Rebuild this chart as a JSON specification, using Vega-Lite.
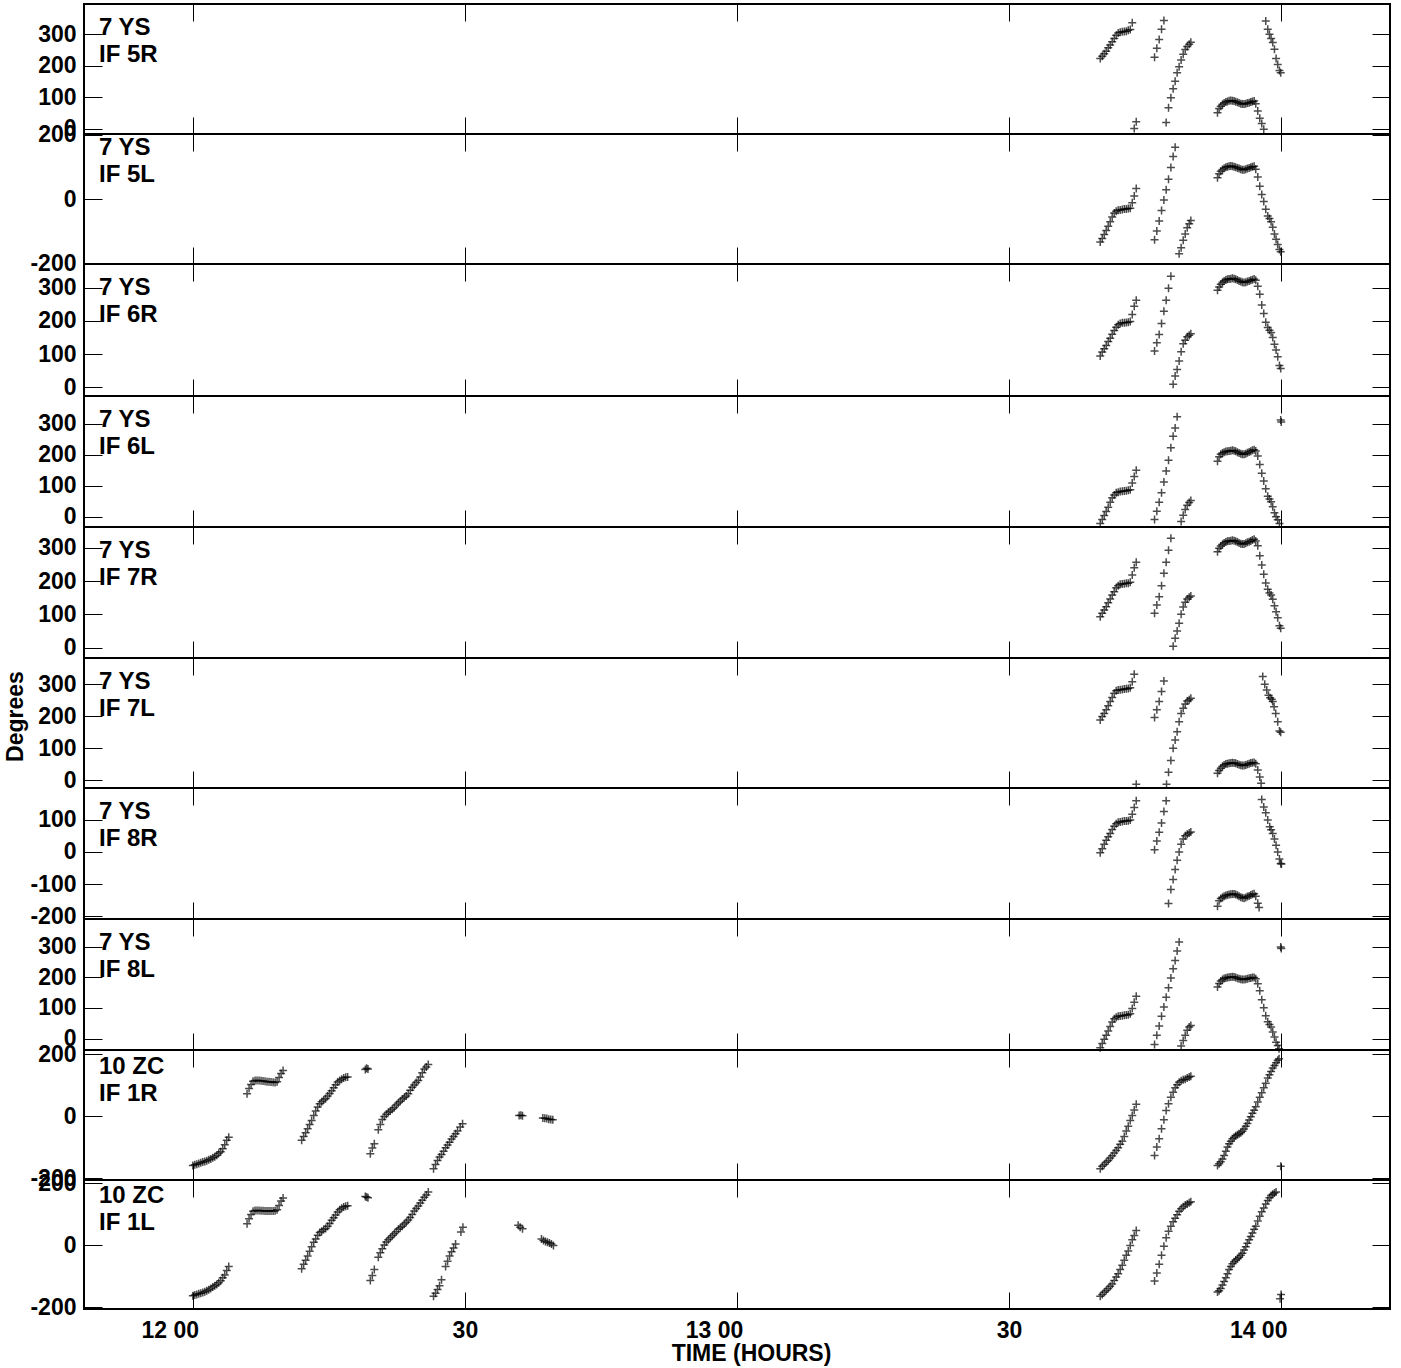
{
  "$schema": "https://vega.github.io/schema/vega-lite/v6.json",
  "background": "white",
  "padding": {"left": 3, "top": 2, "right": 8, "bottom": 5},
  "bounds": "flush",
  "spacing": 0,
  "datasets": {
    "p1": [
      {"t":100.05,"v":223},{"t":100.27,"v":230},{"t":100.49,"v":238},{"t":100.71,"v":246},{"t":100.93,"v":257},{"t":101.15,"v":265},{"t":101.37,"v":276},{"t":101.59,"v":286},{"t":101.81,"v":296},{"t":102.03,"v":303},{"t":102.25,"v":306},{"t":102.48,"v":307},{"t":102.70,"v":308},{"t":102.92,"v":309},{"t":103.14,"v":312},{"t":103.36,"v":314},{"t":103.58,"v":336},{"t":103.80,"v":1},{"t":104.02,"v":23},
      {"t":106.04,"v":227},{"t":106.29,"v":255},{"t":106.55,"v":283},{"t":106.81,"v":315},{"t":107.07,"v":343},{"t":107.32,"v":20},{"t":107.58,"v":67},{"t":107.84,"v":99},{"t":108.09,"v":127},{"t":108.31,"v":151},{"t":108.53,"v":178},{"t":108.75,"v":197},{"t":108.97,"v":218},{"t":109.20,"v":236},{"t":109.42,"v":251},{"t":109.64,"v":261},{"t":109.86,"v":268},{"t":110.04,"v":274},
      {"t":112.98,"v":51},{"t":113.16,"v":65},{"t":113.34,"v":72},{"t":113.53,"v":78},{"t":113.71,"v":82},{"t":113.90,"v":85},{"t":114.08,"v":87},{"t":114.26,"v":89},{"t":114.45,"v":90},{"t":114.63,"v":89},{"t":114.81,"v":88},{"t":114.99,"v":86},{"t":115.18,"v":84},{"t":115.36,"v":82},{"t":115.55,"v":80},{"t":115.73,"v":79},{"t":115.91,"v":79},{"t":116.10,"v":80},{"t":116.28,"v":82},{"t":116.47,"v":83},{"t":116.65,"v":85},{"t":116.83,"v":87},{"t":117.02,"v":88},{"t":117.20,"v":80},
      {"t":117.42,"v":57},{"t":117.64,"v":34},{"t":117.86,"v":17},{"t":118.08,"v":-1},{"t":118.30,"v":341},{"t":118.52,"v":315},{"t":118.71,"v":299},{"t":118.89,"v":286},{"t":119.07,"v":273},{"t":119.26,"v":252},{"t":119.44,"v":223},{"t":119.62,"v":204},{"t":119.81,"v":185},{"t":119.95,"v":178}
    ],
    "p2": [
      {"t":100.05,"v":-134},{"t":100.27,"v":-123},{"t":100.49,"v":-111},{"t":100.71,"v":-98},{"t":100.93,"v":-85},{"t":101.15,"v":-71},{"t":101.37,"v":-56},{"t":101.59,"v":-44},{"t":101.81,"v":-38},{"t":102.03,"v":-35},{"t":102.25,"v":-34},{"t":102.48,"v":-33},{"t":102.70,"v":-31},{"t":102.92,"v":-31},{"t":103.14,"v":-30},{"t":103.36,"v":-29},{"t":103.58,"v":-12},{"t":103.80,"v":9},{"t":104.02,"v":33},
      {"t":106.04,"v":-127},{"t":106.29,"v":-100},{"t":106.55,"v":-69},{"t":106.81,"v":-36},{"t":107.07,"v":-3},{"t":107.32,"v":29},{"t":107.58,"v":62},{"t":107.84,"v":98},{"t":108.09,"v":133},{"t":108.31,"v":162},{"t":108.75,"v":-171},{"t":108.97,"v":-152},{"t":109.20,"v":-129},{"t":109.42,"v":-109},{"t":109.64,"v":-90},{"t":109.86,"v":-77},{"t":110.04,"v":-67},
      {"t":112.98,"v":66},{"t":113.16,"v":79},{"t":113.34,"v":87},{"t":113.53,"v":92},{"t":113.71,"v":96},{"t":113.90,"v":99},{"t":114.08,"v":101},{"t":114.26,"v":102},{"t":114.45,"v":103},{"t":114.63,"v":102},{"t":114.81,"v":101},{"t":114.99,"v":99},{"t":115.18,"v":97},{"t":115.36,"v":95},{"t":115.55,"v":93},{"t":115.73,"v":91},{"t":115.91,"v":91},{"t":116.10,"v":93},{"t":116.28,"v":95},{"t":116.47,"v":97},{"t":116.65,"v":99},{"t":116.83,"v":101},{"t":117.02,"v":102},{"t":117.20,"v":93},
      {"t":117.42,"v":69},{"t":117.64,"v":40},{"t":117.86,"v":14},{"t":118.08,"v":-8},{"t":118.30,"v":-32},{"t":118.52,"v":-53},{"t":118.71,"v":-61},{"t":118.89,"v":-71},{"t":119.07,"v":-88},{"t":119.26,"v":-109},{"t":119.44,"v":-126},{"t":119.62,"v":-142},{"t":119.81,"v":-158},{"t":119.95,"v":-165}
    ],
    "p3": [
      {"t":100.05,"v":94},{"t":100.27,"v":106},{"t":100.49,"v":116},{"t":100.71,"v":126},{"t":100.93,"v":138},{"t":101.15,"v":148},{"t":101.37,"v":160},{"t":101.59,"v":171},{"t":101.81,"v":181},{"t":102.03,"v":188},{"t":102.25,"v":192},{"t":102.48,"v":194},{"t":102.70,"v":194},{"t":102.92,"v":195},{"t":103.14,"v":196},{"t":103.36,"v":198},{"t":103.58,"v":219},{"t":103.80,"v":244},{"t":104.02,"v":262},
      {"t":106.04,"v":109},{"t":106.29,"v":134},{"t":106.55,"v":159},{"t":106.81,"v":192},{"t":107.07,"v":229},{"t":107.32,"v":262},{"t":107.58,"v":298},{"t":107.84,"v":334},{"t":108.09,"v":9},{"t":108.31,"v":34},{"t":108.53,"v":54},{"t":108.75,"v":79},{"t":108.97,"v":107},{"t":109.20,"v":131},{"t":109.42,"v":142},{"t":109.64,"v":152},{"t":109.86,"v":157},{"t":110.04,"v":161},
      {"t":112.98,"v":292},{"t":113.16,"v":302},{"t":113.34,"v":310},{"t":113.53,"v":316},{"t":113.71,"v":320},{"t":113.90,"v":323},{"t":114.08,"v":325},{"t":114.26,"v":326},{"t":114.45,"v":327},{"t":114.63,"v":328},{"t":114.81,"v":327},{"t":114.99,"v":325},{"t":115.18,"v":323},{"t":115.36,"v":320},{"t":115.55,"v":318},{"t":115.73,"v":316},{"t":115.91,"v":315},{"t":116.10,"v":316},{"t":116.28,"v":318},{"t":116.47,"v":320},{"t":116.65,"v":322},{"t":116.83,"v":324},{"t":117.02,"v":326},{"t":117.20,"v":322},
      {"t":117.42,"v":304},{"t":117.64,"v":280},{"t":117.86,"v":248},{"t":118.08,"v":222},{"t":118.30,"v":196},{"t":118.52,"v":180},{"t":118.71,"v":172},{"t":118.89,"v":165},{"t":119.07,"v":150},{"t":119.26,"v":130},{"t":119.44,"v":112},{"t":119.62,"v":92},{"t":119.81,"v":66},{"t":119.95,"v":57}
    ],
    "p4": [
      {"t":100.05,"v":-22},{"t":100.27,"v":-9},{"t":100.49,"v":4},{"t":100.71,"v":17},{"t":100.93,"v":31},{"t":101.15,"v":47},{"t":101.37,"v":61},{"t":101.59,"v":70},{"t":101.81,"v":77},{"t":102.03,"v":79},{"t":102.25,"v":81},{"t":102.48,"v":82},{"t":102.70,"v":83},{"t":102.92,"v":84},{"t":103.14,"v":85},{"t":103.36,"v":87},{"t":103.58,"v":109},{"t":103.80,"v":130},{"t":104.02,"v":150},
      {"t":106.04,"v":-9},{"t":106.29,"v":18},{"t":106.55,"v":47},{"t":106.81,"v":77},{"t":107.07,"v":112},{"t":107.32,"v":147},{"t":107.58,"v":182},{"t":107.84,"v":222},{"t":108.09,"v":259},{"t":108.31,"v":286},{"t":108.53,"v":322},{"t":108.97,"v":-15},{"t":109.20,"v":5},{"t":109.42,"v":23},{"t":109.64,"v":37},{"t":109.86,"v":46},{"t":110.04,"v":52},
      {"t":112.98,"v":179},{"t":113.16,"v":193},{"t":113.34,"v":201},{"t":113.53,"v":205},{"t":113.71,"v":208},{"t":113.90,"v":210},{"t":114.08,"v":211},{"t":114.26,"v":212},{"t":114.45,"v":213},{"t":114.63,"v":214},{"t":114.81,"v":213},{"t":114.99,"v":211},{"t":115.18,"v":208},{"t":115.36,"v":205},{"t":115.55,"v":203},{"t":115.73,"v":201},{"t":115.91,"v":201},{"t":116.10,"v":203},{"t":116.28,"v":206},{"t":116.47,"v":209},{"t":116.65,"v":211},{"t":116.83,"v":214},{"t":117.02,"v":216},{"t":117.20,"v":212},
      {"t":117.42,"v":196},{"t":117.64,"v":168},{"t":117.86,"v":140},{"t":118.08,"v":115},{"t":118.30,"v":90},{"t":118.52,"v":66},{"t":118.71,"v":57},{"t":118.89,"v":48},{"t":119.07,"v":32},{"t":119.26,"v":13},{"t":119.44,"v":0},{"t":119.62,"v":-10},{"t":119.81,"v":-22},{"t":119.95,"v":312},{"t":120.01,"v":305}
    ],
    "p5": [
      {"t":100.05,"v":93},{"t":100.27,"v":103},{"t":100.49,"v":113},{"t":100.71,"v":123},{"t":100.93,"v":135},{"t":101.15,"v":146},{"t":101.37,"v":158},{"t":101.59,"v":168},{"t":101.81,"v":180},{"t":102.03,"v":186},{"t":102.25,"v":190},{"t":102.48,"v":191},{"t":102.70,"v":192},{"t":102.92,"v":193},{"t":103.14,"v":193},{"t":103.36,"v":196},{"t":103.58,"v":218},{"t":103.80,"v":240},{"t":104.02,"v":256},
      {"t":106.04,"v":103},{"t":106.29,"v":128},{"t":106.55,"v":153},{"t":106.81,"v":186},{"t":107.07,"v":223},{"t":107.32,"v":256},{"t":107.58,"v":292},{"t":107.84,"v":328},{"t":108.09,"v":4},{"t":108.31,"v":28},{"t":108.53,"v":50},{"t":108.75,"v":73},{"t":108.97,"v":100},{"t":109.20,"v":122},{"t":109.42,"v":136},{"t":109.64,"v":146},{"t":109.86,"v":151},{"t":110.04,"v":155},
      {"t":112.98,"v":288},{"t":113.16,"v":298},{"t":113.34,"v":305},{"t":113.53,"v":310},{"t":113.71,"v":314},{"t":113.90,"v":317},{"t":114.08,"v":319},{"t":114.26,"v":320},{"t":114.45,"v":321},{"t":114.63,"v":322},{"t":114.81,"v":321},{"t":114.99,"v":319},{"t":115.18,"v":317},{"t":115.36,"v":314},{"t":115.55,"v":312},{"t":115.73,"v":311},{"t":115.91,"v":311},{"t":116.10,"v":313},{"t":116.28,"v":316},{"t":116.47,"v":318},{"t":116.65,"v":320},{"t":116.83,"v":323},{"t":117.02,"v":325},{"t":117.20,"v":320},
      {"t":117.42,"v":306},{"t":117.64,"v":276},{"t":117.86,"v":248},{"t":118.08,"v":220},{"t":118.30,"v":194},{"t":118.52,"v":175},{"t":118.71,"v":164},{"t":118.89,"v":158},{"t":119.07,"v":145},{"t":119.26,"v":126},{"t":119.44,"v":108},{"t":119.62,"v":90},{"t":119.81,"v":66},{"t":119.95,"v":58}
    ],
    "p6": [
      {"t":100.05,"v":188},{"t":100.27,"v":199},{"t":100.49,"v":209},{"t":100.71,"v":220},{"t":100.93,"v":233},{"t":101.15,"v":246},{"t":101.37,"v":259},{"t":101.59,"v":272},{"t":101.81,"v":280},{"t":102.03,"v":282},{"t":102.25,"v":283},{"t":102.48,"v":284},{"t":102.70,"v":285},{"t":102.92,"v":286},{"t":103.14,"v":287},{"t":103.36,"v":289},{"t":103.58,"v":308},{"t":103.80,"v":331},{"t":104.02,"v":-12},
      {"t":106.04,"v":196},{"t":106.29,"v":220},{"t":106.55,"v":246},{"t":106.81,"v":277},{"t":107.07,"v":310},{"t":107.36,"v":-12},{"t":107.58,"v":25},{"t":107.84,"v":62},{"t":108.09,"v":100},{"t":108.31,"v":126},{"t":108.53,"v":152},{"t":108.75,"v":183},{"t":108.97,"v":209},{"t":109.20,"v":225},{"t":109.42,"v":238},{"t":109.64,"v":248},{"t":109.86,"v":252},{"t":110.04,"v":256},
      {"t":112.98,"v":22},{"t":113.16,"v":31},{"t":113.34,"v":38},{"t":113.53,"v":44},{"t":113.71,"v":48},{"t":113.90,"v":51},{"t":114.08,"v":52},{"t":114.26,"v":53},{"t":114.45,"v":54},{"t":114.63,"v":55},{"t":114.81,"v":54},{"t":114.99,"v":53},{"t":115.18,"v":51},{"t":115.36,"v":49},{"t":115.55,"v":47},{"t":115.73,"v":46},{"t":115.91,"v":46},{"t":116.10,"v":48},{"t":116.28,"v":50},{"t":116.47,"v":52},{"t":116.65,"v":54},{"t":116.83,"v":55},{"t":117.02,"v":56},{"t":117.20,"v":52},
      {"t":117.42,"v":32},{"t":117.64,"v":10},{"t":117.79,"v":-9},{"t":117.97,"v":324},{"t":118.19,"v":300},{"t":118.41,"v":282},{"t":118.60,"v":266},{"t":118.78,"v":258},{"t":118.96,"v":253},{"t":119.07,"v":246},{"t":119.22,"v":230},{"t":119.40,"v":209},{"t":119.62,"v":183},{"t":119.81,"v":154},{"t":119.95,"v":150}
    ],
    "p7": [
      {"t":100.05,"v":-3},{"t":100.27,"v":10},{"t":100.49,"v":24},{"t":100.71,"v":36},{"t":100.93,"v":47},{"t":101.15,"v":57},{"t":101.37,"v":70},{"t":101.59,"v":80},{"t":101.81,"v":88},{"t":102.03,"v":92},{"t":102.25,"v":93},{"t":102.48,"v":95},{"t":102.70,"v":96},{"t":102.92,"v":96},{"t":103.14,"v":97},{"t":103.36,"v":99},{"t":103.58,"v":117},{"t":103.80,"v":138},{"t":104.02,"v":159},
      {"t":106.04,"v":7},{"t":106.29,"v":34},{"t":106.55,"v":61},{"t":106.81,"v":90},{"t":107.07,"v":126},{"t":107.32,"v":159},{"t":107.58,"v":-161},{"t":107.84,"v":-117},{"t":108.09,"v":-86},{"t":108.31,"v":-55},{"t":108.53,"v":-26},{"t":108.75,"v":0},{"t":108.97,"v":24},{"t":109.20,"v":40},{"t":109.42,"v":50},{"t":109.64,"v":55},{"t":109.86,"v":59},{"t":110.04,"v":62},
      {"t":112.98,"v":-169},{"t":113.16,"v":-152},{"t":113.34,"v":-145},{"t":113.53,"v":-141},{"t":113.71,"v":-138},{"t":113.90,"v":-136},{"t":114.08,"v":-134},{"t":114.26,"v":-133},{"t":114.45,"v":-132},{"t":114.63,"v":-131},{"t":114.81,"v":-131},{"t":114.99,"v":-133},{"t":115.18,"v":-135},{"t":115.36,"v":-138},{"t":115.55,"v":-141},{"t":115.73,"v":-143},{"t":115.91,"v":-144},{"t":116.10,"v":-142},{"t":116.28,"v":-139},{"t":116.47,"v":-137},{"t":116.65,"v":-134},{"t":116.83,"v":-132},{"t":117.02,"v":-130},{"t":117.20,"v":-138},
      {"t":117.42,"v":-160},{"t":117.57,"v":-173},{"t":117.86,"v":163},{"t":118.08,"v":140},{"t":118.30,"v":122},{"t":118.52,"v":99},{"t":118.74,"v":78},{"t":118.89,"v":69},{"t":119.07,"v":57},{"t":119.26,"v":40},{"t":119.44,"v":21},{"t":119.62,"v":0},{"t":119.81,"v":-22},{"t":119.95,"v":-36},{"t":120.03,"v":-38}
    ],
    "p8": [
      {"t":100.05,"v":-30},{"t":100.27,"v":-16},{"t":100.49,"v":-2},{"t":100.71,"v":11},{"t":100.93,"v":25},{"t":101.15,"v":40},{"t":101.37,"v":54},{"t":101.59,"v":65},{"t":101.81,"v":70},{"t":102.03,"v":73},{"t":102.25,"v":74},{"t":102.48,"v":75},{"t":102.70,"v":76},{"t":102.92,"v":77},{"t":103.14,"v":78},{"t":103.36,"v":81},{"t":103.58,"v":98},{"t":103.80,"v":119},{"t":104.02,"v":138},
      {"t":106.04,"v":-19},{"t":106.29,"v":11},{"t":106.55,"v":41},{"t":106.81,"v":73},{"t":107.07,"v":103},{"t":107.32,"v":135},{"t":107.58,"v":166},{"t":107.84,"v":198},{"t":108.09,"v":228},{"t":108.31,"v":255},{"t":108.53,"v":286},{"t":108.75,"v":315},{"t":108.97,"v":-24},{"t":109.20,"v":-6},{"t":109.42,"v":11},{"t":109.64,"v":27},{"t":109.86,"v":38},{"t":110.04,"v":43},
      {"t":112.98,"v":168},{"t":113.16,"v":180},{"t":113.34,"v":188},{"t":113.53,"v":193},{"t":113.71,"v":196},{"t":113.90,"v":198},{"t":114.08,"v":199},{"t":114.26,"v":200},{"t":114.45,"v":201},{"t":114.63,"v":202},{"t":114.81,"v":201},{"t":114.99,"v":199},{"t":115.18,"v":197},{"t":115.36,"v":195},{"t":115.55,"v":194},{"t":115.73,"v":193},{"t":115.91,"v":193},{"t":116.10,"v":194},{"t":116.28,"v":195},{"t":116.47,"v":197},{"t":116.65,"v":198},{"t":116.83,"v":199},{"t":117.02,"v":199},{"t":117.20,"v":195},
      {"t":117.42,"v":179},{"t":117.64,"v":156},{"t":117.86,"v":127},{"t":118.08,"v":101},{"t":118.30,"v":75},{"t":118.52,"v":55},{"t":118.71,"v":46},{"t":118.89,"v":38},{"t":119.07,"v":22},{"t":119.26,"v":5},{"t":119.44,"v":-12},{"t":119.62,"v":-22},{"t":119.77,"v":-33},{"t":119.95,"v":299},{"t":120.01,"v":294}
    ],
    "p9": [
      {"t":0.00,"v":-159},{"t":0.22,"v":-157},{"t":0.44,"v":-155},{"t":0.66,"v":-153},{"t":0.88,"v":-150},{"t":1.10,"v":-148},{"t":1.32,"v":-146},{"t":1.54,"v":-144},{"t":1.76,"v":-141},{"t":1.98,"v":-138},{"t":2.20,"v":-134},{"t":2.42,"v":-131},{"t":2.64,"v":-126},{"t":2.86,"v":-120},{"t":3.08,"v":-115},{"t":3.30,"v":-105},{"t":3.52,"v":-92},{"t":3.74,"v":-78},{"t":3.96,"v":-68},
      {"t":5.98,"v":72},{"t":6.20,"v":89},{"t":6.42,"v":102},{"t":6.64,"v":112},{"t":6.86,"v":115},{"t":7.08,"v":115},{"t":7.30,"v":115},{"t":7.52,"v":114},{"t":7.74,"v":113},{"t":7.96,"v":112},{"t":8.18,"v":111},{"t":8.40,"v":111},{"t":8.62,"v":110},{"t":8.85,"v":109},{"t":9.07,"v":108},{"t":9.29,"v":111},{"t":9.51,"v":124},{"t":9.73,"v":137},{"t":9.95,"v":147},
      {"t":12.00,"v":-78},{"t":12.22,"v":-66},{"t":12.44,"v":-54},{"t":12.66,"v":-41},{"t":12.88,"v":-27},{"t":13.10,"v":-14},{"t":13.33,"v":2},{"t":13.55,"v":16},{"t":13.77,"v":29},{"t":13.99,"v":40},{"t":14.21,"v":46},{"t":14.43,"v":52},{"t":14.65,"v":57},{"t":14.87,"v":65},{"t":15.09,"v":73},{"t":15.31,"v":82},{"t":15.53,"v":91},{"t":15.75,"v":101},{"t":15.97,"v":110},{"t":16.19,"v":115},{"t":16.41,"v":119},{"t":16.63,"v":123},{"t":16.85,"v":125},{"t":17.07,"v":126},
      {"t":19.02,"v":150},{"t":19.16,"v":154},{"t":19.31,"v":152},
      {"t":19.57,"v":-121},{"t":19.79,"v":-103},{"t":20.01,"v":-89},{"t":20.45,"v":-44},{"t":20.67,"v":-27},{"t":20.89,"v":-11},{"t":21.11,"v":-1},{"t":21.33,"v":6},{"t":21.55,"v":12},{"t":21.77,"v":16},{"t":21.99,"v":22},{"t":22.21,"v":28},{"t":22.43,"v":36},{"t":22.65,"v":42},{"t":22.87,"v":48},{"t":23.09,"v":55},{"t":23.31,"v":60},{"t":23.53,"v":65},{"t":23.75,"v":72},{"t":23.97,"v":83},{"t":24.19,"v":93},{"t":24.41,"v":100},{"t":24.63,"v":108},{"t":24.86,"v":115},{"t":25.08,"v":126},{"t":25.30,"v":140},{"t":25.52,"v":152},{"t":25.74,"v":158},{"t":25.96,"v":166},
      {"t":26.54,"v":-170},{"t":26.76,"v":-156},{"t":26.98,"v":-143},{"t":27.20,"v":-132},{"t":27.42,"v":-124},{"t":27.65,"v":-113},{"t":27.87,"v":-102},{"t":28.09,"v":-93},{"t":28.31,"v":-84},{"t":28.53,"v":-74},{"t":28.75,"v":-66},{"t":28.97,"v":-57},{"t":29.19,"v":-48},{"t":29.48,"v":-35},{"t":29.74,"v":-25},
      {"t":35.98,"v":2},{"t":36.17,"v":3},{"t":36.35,"v":1},
      {"t":38.59,"v":-6},{"t":38.81,"v":-7},{"t":39.03,"v":-8},{"t":39.25,"v":-10},{"t":39.47,"v":-11},{"t":39.69,"v":-12},
      {"t":100.05,"v":-170},{"t":100.27,"v":-162},{"t":100.49,"v":-156},{"t":100.71,"v":-149},{"t":100.93,"v":-143},{"t":101.15,"v":-135},{"t":101.37,"v":-128},{"t":101.59,"v":-119},{"t":101.81,"v":-111},{"t":102.03,"v":-102},{"t":102.25,"v":-91},{"t":102.48,"v":-81},{"t":102.70,"v":-66},{"t":102.92,"v":-48},{"t":103.14,"v":-33},{"t":103.36,"v":-14},{"t":103.58,"v":2},{"t":103.80,"v":20},{"t":104.02,"v":38},
      {"t":106.04,"v":-127},{"t":106.29,"v":-100},{"t":106.55,"v":-73},{"t":106.81,"v":-41},{"t":107.07,"v":-12},{"t":107.32,"v":18},{"t":107.58,"v":40},{"t":107.84,"v":61},{"t":108.09,"v":77},{"t":108.31,"v":91},{"t":108.53,"v":101},{"t":108.75,"v":109},{"t":108.97,"v":114},{"t":109.20,"v":117},{"t":109.42,"v":119},{"t":109.64,"v":123},{"t":109.86,"v":126},{"t":110.04,"v":128},
      {"t":112.98,"v":-159},{"t":113.16,"v":-154},{"t":113.34,"v":-147},{"t":113.53,"v":-138},{"t":113.71,"v":-127},{"t":113.90,"v":-113},{"t":114.08,"v":-100},{"t":114.26,"v":-89},{"t":114.45,"v":-81},{"t":114.63,"v":-73},{"t":114.81,"v":-68},{"t":114.99,"v":-63},{"t":115.18,"v":-60},{"t":115.36,"v":-57},{"t":115.55,"v":-54},{"t":115.73,"v":-49},{"t":115.91,"v":-42},{"t":116.10,"v":-33},{"t":116.28,"v":-24},{"t":116.47,"v":-13},{"t":116.65,"v":-2},{"t":116.83,"v":9},{"t":117.02,"v":19},{"t":117.20,"v":30},
      {"t":117.42,"v":45},{"t":117.64,"v":61},{"t":117.86,"v":75},{"t":118.08,"v":91},{"t":118.30,"v":106},{"t":118.52,"v":123},{"t":118.71,"v":133},{"t":118.89,"v":144},{"t":119.07,"v":155},{"t":119.26,"v":163},{"t":119.44,"v":172},{"t":119.62,"v":180},{"t":119.77,"v":185},{"t":119.95,"v":-162}
    ],
    "p10": [
      {"t":0.00,"v":-163},{"t":0.22,"v":-161},{"t":0.44,"v":-159},{"t":0.66,"v":-157},{"t":0.88,"v":-155},{"t":1.10,"v":-153},{"t":1.32,"v":-150},{"t":1.54,"v":-147},{"t":1.76,"v":-144},{"t":1.98,"v":-140},{"t":2.20,"v":-135},{"t":2.42,"v":-131},{"t":2.64,"v":-127},{"t":2.86,"v":-121},{"t":3.08,"v":-115},{"t":3.30,"v":-105},{"t":3.52,"v":-96},{"t":3.74,"v":-82},{"t":3.96,"v":-69},
      {"t":5.98,"v":69},{"t":6.20,"v":85},{"t":6.42,"v":99},{"t":6.64,"v":109},{"t":6.86,"v":112},{"t":7.08,"v":112},{"t":7.30,"v":112},{"t":7.52,"v":111},{"t":7.74,"v":111},{"t":7.96,"v":110},{"t":8.18,"v":110},{"t":8.40,"v":110},{"t":8.62,"v":110},{"t":8.85,"v":110},{"t":9.07,"v":111},{"t":9.29,"v":114},{"t":9.51,"v":128},{"t":9.73,"v":142},{"t":9.95,"v":152},
      {"t":12.00,"v":-76},{"t":12.22,"v":-62},{"t":12.44,"v":-49},{"t":12.66,"v":-35},{"t":12.88,"v":-20},{"t":13.10,"v":-5},{"t":13.33,"v":9},{"t":13.55,"v":20},{"t":13.77,"v":32},{"t":13.99,"v":41},{"t":14.21,"v":45},{"t":14.43,"v":50},{"t":14.65,"v":54},{"t":14.87,"v":61},{"t":15.09,"v":70},{"t":15.31,"v":80},{"t":15.53,"v":88},{"t":15.75,"v":97},{"t":15.97,"v":107},{"t":16.19,"v":114},{"t":16.41,"v":119},{"t":16.63,"v":123},{"t":16.85,"v":125},{"t":17.07,"v":127},
      {"t":19.02,"v":157},{"t":19.16,"v":155},{"t":19.31,"v":153},
      {"t":19.57,"v":-114},{"t":19.79,"v":-98},{"t":20.01,"v":-79},{"t":20.45,"v":-39},{"t":20.67,"v":-25},{"t":20.89,"v":-12},{"t":21.11,"v":0},{"t":21.33,"v":10},{"t":21.55,"v":17},{"t":21.77,"v":24},{"t":21.99,"v":30},{"t":22.21,"v":37},{"t":22.43,"v":43},{"t":22.65,"v":51},{"t":22.87,"v":56},{"t":23.09,"v":61},{"t":23.31,"v":68},{"t":23.53,"v":74},{"t":23.75,"v":81},{"t":23.97,"v":89},{"t":24.19,"v":99},{"t":24.41,"v":110},{"t":24.63,"v":118},{"t":24.86,"v":126},{"t":25.08,"v":136},{"t":25.30,"v":145},{"t":25.52,"v":154},{"t":25.74,"v":162},{"t":25.96,"v":171},
      {"t":26.54,"v":-165},{"t":26.76,"v":-155},{"t":26.98,"v":-143},{"t":27.20,"v":-131},{"t":27.42,"v":-112},{"t":27.87,"v":-69},{"t":28.09,"v":-52},{"t":28.31,"v":-35},{"t":28.53,"v":-21},{"t":28.75,"v":-9},{"t":28.97,"v":4},{"t":29.56,"v":42},{"t":29.78,"v":58},
      {"t":35.87,"v":64},{"t":36.09,"v":58},{"t":36.35,"v":53},
      {"t":38.44,"v":20},{"t":38.66,"v":15},{"t":38.88,"v":12},{"t":39.10,"v":9},{"t":39.32,"v":7},{"t":39.54,"v":4},{"t":39.76,"v":-1},
      {"t":100.05,"v":-165},{"t":100.27,"v":-159},{"t":100.49,"v":-152},{"t":100.71,"v":-146},{"t":100.93,"v":-140},{"t":101.15,"v":-133},{"t":101.37,"v":-125},{"t":101.59,"v":-114},{"t":101.81,"v":-103},{"t":102.03,"v":-92},{"t":102.25,"v":-79},{"t":102.48,"v":-65},{"t":102.70,"v":-49},{"t":102.92,"v":-33},{"t":103.14,"v":-19},{"t":103.36,"v":-1},{"t":103.58,"v":17},{"t":103.80,"v":31},{"t":104.02,"v":47},
      {"t":106.04,"v":-116},{"t":106.29,"v":-90},{"t":106.55,"v":-62},{"t":106.81,"v":-33},{"t":107.07,"v":-4},{"t":107.32,"v":24},{"t":107.58,"v":45},{"t":107.84,"v":61},{"t":108.09,"v":75},{"t":108.31,"v":87},{"t":108.53,"v":98},{"t":108.75,"v":109},{"t":108.97,"v":117},{"t":109.20,"v":124},{"t":109.42,"v":129},{"t":109.64,"v":133},{"t":109.86,"v":137},{"t":110.04,"v":140},
      {"t":112.98,"v":-151},{"t":113.16,"v":-147},{"t":113.34,"v":-140},{"t":113.53,"v":-129},{"t":113.71,"v":-117},{"t":113.90,"v":-105},{"t":114.08,"v":-92},{"t":114.26,"v":-79},{"t":114.45,"v":-69},{"t":114.63,"v":-60},{"t":114.81,"v":-54},{"t":114.99,"v":-48},{"t":115.18,"v":-44},{"t":115.36,"v":-39},{"t":115.55,"v":-33},{"t":115.73,"v":-26},{"t":115.91,"v":-16},{"t":116.10,"v":-5},{"t":116.28,"v":6},{"t":116.47,"v":17},{"t":116.65,"v":28},{"t":116.83,"v":39},{"t":117.02,"v":51},{"t":117.20,"v":61},
      {"t":117.42,"v":78},{"t":117.64,"v":93},{"t":117.86,"v":108},{"t":118.08,"v":120},{"t":118.30,"v":133},{"t":118.52,"v":144},{"t":118.71,"v":153},{"t":118.89,"v":160},{"t":119.07,"v":164},{"t":119.26,"v":168},{"t":119.44,"v":171},{"t":119.88,"v":-173},{"t":119.99,"v":-159}
    ]
  },
  "vconcat": [
    {
      "data": {"name": "p1"},
      "height": 130,
      "title": {"text": ["7 YS", "IF 5R"]},
      "layer": [
        {"mark": "point", "encoding": {
          "x": {"field": "t", "type": "quantitative", "scale": {"domain": [-12, 132], "nice": false, "zero": false}, "axis": {"orient": "bottom", "values": [0, 30, 60, 90, 120], "labels": false, "title": null}},
          "y": {"field": "v", "type": "quantitative", "scale": {"domain": [-16, 395], "nice": false, "zero": false}, "axis": {"orient": "left", "values": [0, 100, 200, 300], "labelExpr": "'' + datum.value", "title": null}}}},
        {"mark": {"type": "point", "opacity": 0}, "encoding": {
          "x": {"field": "t", "type": "quantitative", "scale": {"domain": [-12, 132], "nice": false, "zero": false}, "axis": {"orient": "top", "values": [0, 30, 60, 90, 120], "title": null}},
          "y": {"field": "v", "type": "quantitative", "scale": {"domain": [-16, 395], "nice": false, "zero": false}, "axis": {"orient": "right", "values": [0, 100, 200, 300], "title": null}}}}
      ],
      "resolve": {"axis": {"x": "independent", "y": "independent"}}
    },
    {
      "data": {"name": "p2"},
      "height": 130,
      "title": {"text": ["7 YS", "IF 5L"]},
      "layer": [
        {"mark": "point", "encoding": {
          "x": {"field": "t", "type": "quantitative", "scale": {"domain": [-12, 132], "nice": false, "zero": false}, "axis": {"orient": "bottom", "values": [0, 30, 60, 90, 120], "labels": false, "title": null}},
          "y": {"field": "v", "type": "quantitative", "scale": {"domain": [-203, 203], "nice": false, "zero": false}, "axis": {"orient": "left", "values": [-200, 0, 200], "labelExpr": "'' + datum.value", "title": null}}}},
        {"mark": {"type": "point", "opacity": 0}, "encoding": {
          "x": {"field": "t", "type": "quantitative", "scale": {"domain": [-12, 132], "nice": false, "zero": false}, "axis": {"orient": "top", "values": [0, 30, 60, 90, 120], "title": null}},
          "y": {"field": "v", "type": "quantitative", "scale": {"domain": [-203, 203], "nice": false, "zero": false}, "axis": {"orient": "right", "values": [-200, 0, 200], "title": null}}}}
      ],
      "resolve": {"axis": {"x": "independent", "y": "independent"}}
    },
    {
      "data": {"name": "p3"},
      "height": 132,
      "title": {"text": ["7 YS", "IF 6R"]},
      "layer": [
        {"mark": "point", "encoding": {
          "x": {"field": "t", "type": "quantitative", "scale": {"domain": [-12, 132], "nice": false, "zero": false}, "axis": {"orient": "bottom", "values": [0, 30, 60, 90, 120], "labels": false, "title": null}},
          "y": {"field": "v", "type": "quantitative", "scale": {"domain": [-26, 371], "nice": false, "zero": false}, "axis": {"orient": "left", "values": [0, 100, 200, 300], "labelExpr": "'' + datum.value", "title": null}}}},
        {"mark": {"type": "point", "opacity": 0}, "encoding": {
          "x": {"field": "t", "type": "quantitative", "scale": {"domain": [-12, 132], "nice": false, "zero": false}, "axis": {"orient": "top", "values": [0, 30, 60, 90, 120], "title": null}},
          "y": {"field": "v", "type": "quantitative", "scale": {"domain": [-26, 371], "nice": false, "zero": false}, "axis": {"orient": "right", "values": [0, 100, 200, 300], "title": null}}}}
      ],
      "resolve": {"axis": {"x": "independent", "y": "independent"}}
    },
    {
      "data": {"name": "p4"},
      "height": 131,
      "title": {"text": ["7 YS", "IF 6L"]},
      "layer": [
        {"mark": "point", "encoding": {
          "x": {"field": "t", "type": "quantitative", "scale": {"domain": [-12, 132], "nice": false, "zero": false}, "axis": {"orient": "bottom", "values": [0, 30, 60, 90, 120], "labels": false, "title": null}},
          "y": {"field": "v", "type": "quantitative", "scale": {"domain": [-33, 389], "nice": false, "zero": false}, "axis": {"orient": "left", "values": [0, 100, 200, 300], "labelExpr": "'' + datum.value", "title": null}}}},
        {"mark": {"type": "point", "opacity": 0}, "encoding": {
          "x": {"field": "t", "type": "quantitative", "scale": {"domain": [-12, 132], "nice": false, "zero": false}, "axis": {"orient": "top", "values": [0, 30, 60, 90, 120], "title": null}},
          "y": {"field": "v", "type": "quantitative", "scale": {"domain": [-33, 389], "nice": false, "zero": false}, "axis": {"orient": "right", "values": [0, 100, 200, 300], "title": null}}}}
      ],
      "resolve": {"axis": {"x": "independent", "y": "independent"}}
    },
    {
      "data": {"name": "p5"},
      "height": 131,
      "title": {"text": ["7 YS", "IF 7R"]},
      "layer": [
        {"mark": "point", "encoding": {
          "x": {"field": "t", "type": "quantitative", "scale": {"domain": [-12, 132], "nice": false, "zero": false}, "axis": {"orient": "bottom", "values": [0, 30, 60, 90, 120], "labels": false, "title": null}},
          "y": {"field": "v", "type": "quantitative", "scale": {"domain": [-31, 362], "nice": false, "zero": false}, "axis": {"orient": "left", "values": [0, 100, 200, 300], "labelExpr": "'' + datum.value", "title": null}}}},
        {"mark": {"type": "point", "opacity": 0}, "encoding": {
          "x": {"field": "t", "type": "quantitative", "scale": {"domain": [-12, 132], "nice": false, "zero": false}, "axis": {"orient": "top", "values": [0, 30, 60, 90, 120], "title": null}},
          "y": {"field": "v", "type": "quantitative", "scale": {"domain": [-31, 362], "nice": false, "zero": false}, "axis": {"orient": "right", "values": [0, 100, 200, 300], "title": null}}}}
      ],
      "resolve": {"axis": {"x": "independent", "y": "independent"}}
    },
    {
      "data": {"name": "p6"},
      "height": 130,
      "title": {"text": ["7 YS", "IF 7L"]},
      "layer": [
        {"mark": "point", "encoding": {
          "x": {"field": "t", "type": "quantitative", "scale": {"domain": [-12, 132], "nice": false, "zero": false}, "axis": {"orient": "bottom", "values": [0, 30, 60, 90, 120], "labels": false, "title": null}},
          "y": {"field": "v", "type": "quantitative", "scale": {"domain": [-24, 382], "nice": false, "zero": false}, "axis": {"orient": "left", "values": [0, 100, 200, 300], "labelExpr": "'' + datum.value", "title": "Degrees", "titleX": -57, "titleY": 58, "titleAngle": -90, "titleAlign": "center", "titleBaseline": "bottom"}}}},
        {"mark": {"type": "point", "opacity": 0}, "encoding": {
          "x": {"field": "t", "type": "quantitative", "scale": {"domain": [-12, 132], "nice": false, "zero": false}, "axis": {"orient": "top", "values": [0, 30, 60, 90, 120], "title": null}},
          "y": {"field": "v", "type": "quantitative", "scale": {"domain": [-24, 382], "nice": false, "zero": false}, "axis": {"orient": "right", "values": [0, 100, 200, 300], "title": null}}}}
      ],
      "resolve": {"axis": {"x": "independent", "y": "independent"}}
    },
    {
      "data": {"name": "p7"},
      "height": 131,
      "title": {"text": ["7 YS", "IF 8R"]},
      "layer": [
        {"mark": "point", "encoding": {
          "x": {"field": "t", "type": "quantitative", "scale": {"domain": [-12, 132], "nice": false, "zero": false}, "axis": {"orient": "bottom", "values": [0, 30, 60, 90, 120], "labels": false, "title": null}},
          "y": {"field": "v", "type": "quantitative", "scale": {"domain": [-209, 199], "nice": false, "zero": false}, "axis": {"orient": "left", "values": [-200, -100, 0, 100], "labelExpr": "'' + datum.value", "title": null}}}},
        {"mark": {"type": "point", "opacity": 0}, "encoding": {
          "x": {"field": "t", "type": "quantitative", "scale": {"domain": [-12, 132], "nice": false, "zero": false}, "axis": {"orient": "top", "values": [0, 30, 60, 90, 120], "title": null}},
          "y": {"field": "v", "type": "quantitative", "scale": {"domain": [-209, 199], "nice": false, "zero": false}, "axis": {"orient": "right", "values": [-200, -100, 0, 100], "title": null}}}}
      ],
      "resolve": {"axis": {"x": "independent", "y": "independent"}}
    },
    {
      "data": {"name": "p8"},
      "height": 131,
      "title": {"text": ["7 YS", "IF 8L"]},
      "layer": [
        {"mark": "point", "encoding": {
          "x": {"field": "t", "type": "quantitative", "scale": {"domain": [-12, 132], "nice": false, "zero": false}, "axis": {"orient": "bottom", "values": [0, 30, 60, 90, 120], "labels": false, "title": null}},
          "y": {"field": "v", "type": "quantitative", "scale": {"domain": [-37, 390], "nice": false, "zero": false}, "axis": {"orient": "left", "values": [0, 100, 200, 300], "labelExpr": "'' + datum.value", "title": null}}}},
        {"mark": {"type": "point", "opacity": 0}, "encoding": {
          "x": {"field": "t", "type": "quantitative", "scale": {"domain": [-12, 132], "nice": false, "zero": false}, "axis": {"orient": "top", "values": [0, 30, 60, 90, 120], "title": null}},
          "y": {"field": "v", "type": "quantitative", "scale": {"domain": [-37, 390], "nice": false, "zero": false}, "axis": {"orient": "right", "values": [0, 100, 200, 300], "title": null}}}}
      ],
      "resolve": {"axis": {"x": "independent", "y": "independent"}}
    },
    {
      "data": {"name": "p9"},
      "height": 130,
      "title": {"text": ["10 ZC", "IF 1R"]},
      "layer": [
        {"mark": "point", "encoding": {
          "x": {"field": "t", "type": "quantitative", "scale": {"domain": [-12, 132], "nice": false, "zero": false}, "axis": {"orient": "bottom", "values": [0, 30, 60, 90, 120], "labels": false, "title": null}},
          "y": {"field": "v", "type": "quantitative", "scale": {"domain": [-206, 213], "nice": false, "zero": false}, "axis": {"orient": "left", "values": [-200, 0, 200], "labelExpr": "'' + datum.value", "title": null}}}},
        {"mark": {"type": "point", "opacity": 0}, "encoding": {
          "x": {"field": "t", "type": "quantitative", "scale": {"domain": [-12, 132], "nice": false, "zero": false}, "axis": {"orient": "top", "values": [0, 30, 60, 90, 120], "title": null}},
          "y": {"field": "v", "type": "quantitative", "scale": {"domain": [-206, 213], "nice": false, "zero": false}, "axis": {"orient": "right", "values": [-200, 0, 200], "title": null}}}}
      ],
      "resolve": {"axis": {"x": "independent", "y": "independent"}}
    },
    {
      "data": {"name": "p10"},
      "height": 129,
      "title": {"text": ["10 ZC", "IF 1L"]},
      "layer": [
        {"mark": "point", "encoding": {
          "x": {"field": "t", "type": "quantitative", "scale": {"domain": [-12, 132], "nice": false, "zero": false}, "axis": {"orient": "bottom", "values": [0, 30, 60, 90, 120], "labelExpr": "datum.value == 0 ? '12 00' : datum.value == 60 ? '13 00' : datum.value == 120 ? '14 00' : '30'", "labelOffset": {"condition": {"test": "datum.value % 60 == 0", "value": -23}, "value": 0}, "title": "TIME (HOURS)", "titleX": 667, "titleY": 33, "titleAlign": "center", "titleBaseline": "top"}},
          "y": {"field": "v", "type": "quantitative", "scale": {"domain": [-206, 210], "nice": false, "zero": false}, "axis": {"orient": "left", "values": [-200, 0, 200], "labelExpr": "'' + datum.value", "title": null}}}},
        {"mark": {"type": "point", "opacity": 0}, "encoding": {
          "x": {"field": "t", "type": "quantitative", "scale": {"domain": [-12, 132], "nice": false, "zero": false}, "axis": {"orient": "top", "values": [0, 30, 60, 90, 120], "title": null}},
          "y": {"field": "v", "type": "quantitative", "scale": {"domain": [-206, 210], "nice": false, "zero": false}, "axis": {"orient": "right", "values": [-200, 0, 200], "title": null}}}}
      ],
      "resolve": {"axis": {"x": "independent", "y": "independent"}}
    }
  ],
  "config": {
    "view": {"continuousWidth": 1306, "stroke": "#000", "strokeWidth": 2},
    "point": {"shape": "M-1,0H1M0,-1V1", "size": 64, "filled": false, "stroke": "#000", "strokeWidth": 1.5, "clip": true},
    "axis": {"domain": false, "grid": false, "ticks": true, "tickColor": "#000", "tickWidth": 1, "labelFont": "Liberation Sans", "labelFontWeight": "bold", "labelFontSize": 23, "labelColor": "#000", "labelFlush": false, "labelOverlap": false, "labelBound": false, "titleFont": "Liberation Sans", "titleFontWeight": "bold", "titleFontSize": 23, "titleColor": "#000"},
    "axisX": {"tickSize": -17, "labelPadding": 27},
    "axisY": {"tickSize": -18, "labelPadding": 26},
    "axisTop": {"labels": false},
    "axisRight": {"labels": false},
    "title": {"anchor": "start", "frame": "group", "offset": -63, "dx": 15, "font": "Liberation Sans", "fontSize": 24, "fontWeight": "bold", "color": "#000", "lineHeight": 27}
  }
}
